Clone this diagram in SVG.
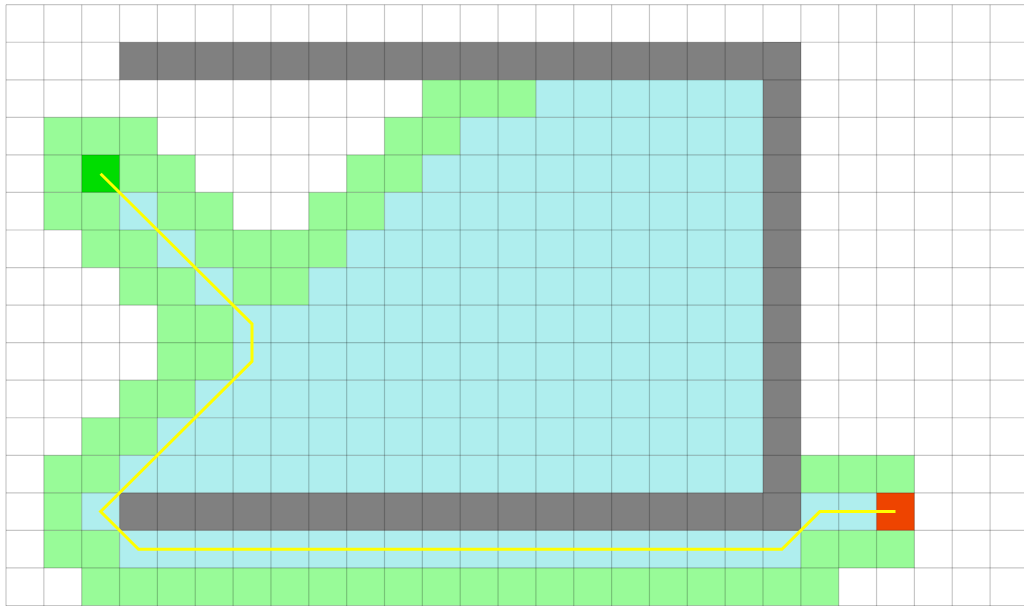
<svg xmlns="http://www.w3.org/2000/svg" width="1024" height="606" viewBox="0 0 1024 606">
<style>
.g{fill:#98fb98}
.c{fill:#afeeee}
.w{fill:#808080}
.gl{stroke:#000;stroke-opacity:0.22;stroke-width:1.2;fill:none}
.path{stroke:#ffff00;stroke-width:3;fill:none;stroke-linejoin:miter}
</style>
<rect x="0" y="0" width="1024" height="606" fill="#fff"/>
<g id="cells">
<rect class="g" x="422.35" y="79.8" width="113.55" height="37.55"/>
<rect class="c" x="535.9" y="79.8" width="227.1" height="37.55"/>
<rect class="g" x="43.85" y="117.35" width="113.55" height="37.55"/>
<rect class="g" x="384.5" y="117.35" width="75.7" height="37.55"/>
<rect class="c" x="460.2" y="117.35" width="302.8" height="37.55"/>
<rect class="g" x="43.85" y="154.9" width="37.85" height="37.55"/>
<rect class="g" x="119.55" y="154.9" width="75.7" height="37.55"/>
<rect class="g" x="346.65" y="154.9" width="75.7" height="37.55"/>
<rect class="c" x="422.35" y="154.9" width="340.65" height="37.55"/>
<rect class="g" x="43.85" y="192.45" width="75.7" height="37.55"/>
<rect class="c" x="119.55" y="192.45" width="37.85" height="37.55"/>
<rect class="g" x="157.4" y="192.45" width="75.7" height="37.55"/>
<rect class="g" x="308.8" y="192.45" width="75.7" height="37.55"/>
<rect class="c" x="384.5" y="192.45" width="378.5" height="37.55"/>
<rect class="g" x="81.7" y="230" width="75.7" height="37.55"/>
<rect class="c" x="157.4" y="230" width="37.85" height="37.55"/>
<rect class="g" x="195.25" y="230" width="151.4" height="37.55"/>
<rect class="c" x="346.65" y="230" width="416.35" height="37.55"/>
<rect class="g" x="119.55" y="267.55" width="75.7" height="37.55"/>
<rect class="c" x="195.25" y="267.55" width="37.85" height="37.55"/>
<rect class="g" x="233.1" y="267.55" width="75.7" height="37.55"/>
<rect class="c" x="308.8" y="267.55" width="454.2" height="37.55"/>
<rect class="g" x="157.4" y="305.1" width="75.7" height="75.1"/>
<rect class="c" x="233.1" y="305.1" width="529.9" height="75.1"/>
<rect class="g" x="119.55" y="380.2" width="75.7" height="37.55"/>
<rect class="c" x="195.25" y="380.2" width="567.75" height="37.55"/>
<rect class="g" x="81.7" y="417.75" width="75.7" height="37.55"/>
<rect class="c" x="157.4" y="417.75" width="605.6" height="37.55"/>
<rect class="g" x="43.85" y="455.3" width="75.7" height="37.55"/>
<rect class="c" x="119.55" y="455.3" width="643.45" height="37.55"/>
<rect class="g" x="800.85" y="455.3" width="113.55" height="37.55"/>
<rect class="g" x="43.85" y="492.85" width="37.85" height="37.55"/>
<rect class="c" x="81.7" y="492.85" width="37.85" height="37.55"/>
<rect class="c" x="800.85" y="492.85" width="75.7" height="37.55"/>
<rect class="g" x="43.85" y="530.4" width="75.7" height="37.55"/>
<rect class="c" x="119.55" y="530.4" width="681.3" height="37.55"/>
<rect class="g" x="800.85" y="530.4" width="113.55" height="37.55"/>
<rect class="g" x="81.7" y="567.95" width="757" height="37.55"/>
</g>
<g id="walls">
<rect class="w" x="119.55" y="42.25" width="681.3" height="37.55"/>
<rect class="w" x="763" y="42.25" width="37.85" height="488.15"/>
<rect class="w" x="119.55" y="492.85" width="681.3" height="37.55"/>
</g>
<g id="start"><rect x="81.7" y="154.9" width="37.85" height="37.55" fill="#00dd00"/></g>
<g id="end"><rect x="876.55" y="492.85" width="37.85" height="37.55" fill="#ee4400"/></g>
<g id="grid" class="gl">
<path d="M6 4.7V606M43.85 4.7V606M81.7 4.7V606M119.55 4.7V606M157.4 4.7V606M195.25 4.7V606M233.1 4.7V606M270.95 4.7V606M308.8 4.7V606M346.65 4.7V606M384.5 4.7V606M422.35 4.7V606M460.2 4.7V606M498.05 4.7V606M535.9 4.7V606M573.75 4.7V606M611.6 4.7V606M649.45 4.7V606M687.3 4.7V606M725.15 4.7V606M763 4.7V606M800.85 4.7V606M838.7 4.7V606M876.55 4.7V606M914.4 4.7V606M952.25 4.7V606M990.1 4.7V606"/>
<path d="M6 4.7H1024M6 42.25H1024M6 79.8H1024M6 117.35H1024M6 154.9H1024M6 192.45H1024M6 230H1024M6 267.55H1024M6 305.1H1024M6 342.65H1024M6 380.2H1024M6 417.75H1024M6 455.3H1024M6 492.85H1024M6 530.4H1024M6 567.95H1024M6 605.5H1024"/>
</g>
<g id="connectors">
<polyline class="path" points="100.6,173.7 252,323.9 252,361.4 100.6,511.6 138.5,549.2 781.9,549.2 819.8,511.6 895.5,511.6"/>
</g>
</svg>
